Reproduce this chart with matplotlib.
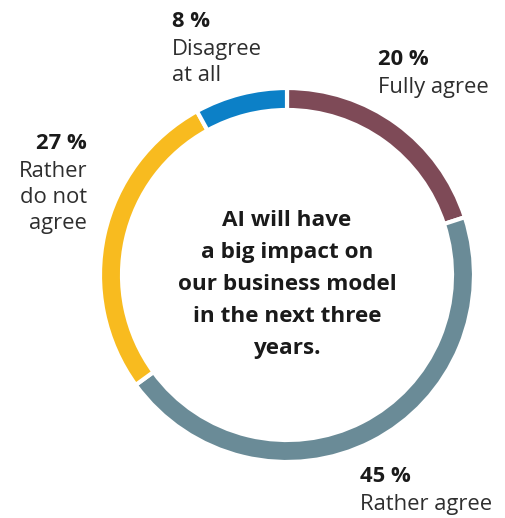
import matplotlib
matplotlib.use('Agg')
import matplotlib.pyplot as plt

# survey answers, clockwise from the top
Answers   = ['Fully agree', 'Rather agree', 'Rather\ndo not\nagree', 'Disagree\nat all']
Shares    = [20, 45, 27, 8]
Colours   = ['#7e4a57', '#6a8b97', '#f8bb1f', '#0c80c7']
Question  = 'AI will have\na big impact on\nour business model\nin the next three\nyears.'

W, H      = 506, 518
cx, cy    = 287, H - 275
radius    = 187
ring      = 22

fig = plt.figure(figsize=(W/100, H/100), dpi=100)
ax  = fig.add_axes([0, 0, 1, 1])
ax.pie(Shares, colors=Colours, startangle=90, counterclock=False,
       center=(cx, cy), radius=radius,
       wedgeprops=dict(width=ring, edgecolor='white', linewidth=3))
ax.set_xlim(0, W)
ax.set_ylim(0, H)
ax.set_aspect('equal')
ax.axis('off')

fam   = ['Open Sans', 'DejaVu Sans']
fsize = 15.8
dark  = '#1a1a1a'

# (x, baseline of the percent line, alignment) for each label, image pixels from the top
LabelPos = [(378, 65, 'left'), (360, 482, 'left'), (87, 149, 'right'), (172, 27, 'left')]
for share, answer, (x, y, ha) in zip(Shares, Answers, LabelPos):
	ax.text(x, H - y, '{} %'.format(share), ha=ha, va='baseline', fontsize=fsize,
	        fontweight='bold', color=dark, family=fam)
	for n, line in enumerate(answer.split('\n')):
		ax.text(x, H - (y + 28 + 26*n), line, ha=ha, va='baseline', fontsize=fsize,
		        fontweight='normal', color='#2e2e2e', family=fam)

for n, line in enumerate(Question.split('\n')):
	ax.text(cx, H - (226 + 32*n), line, ha='center', va='baseline', fontsize=16.2,
	        fontweight='bold', color=dark, family=fam)

plt.savefig('out.png', dpi=100)
